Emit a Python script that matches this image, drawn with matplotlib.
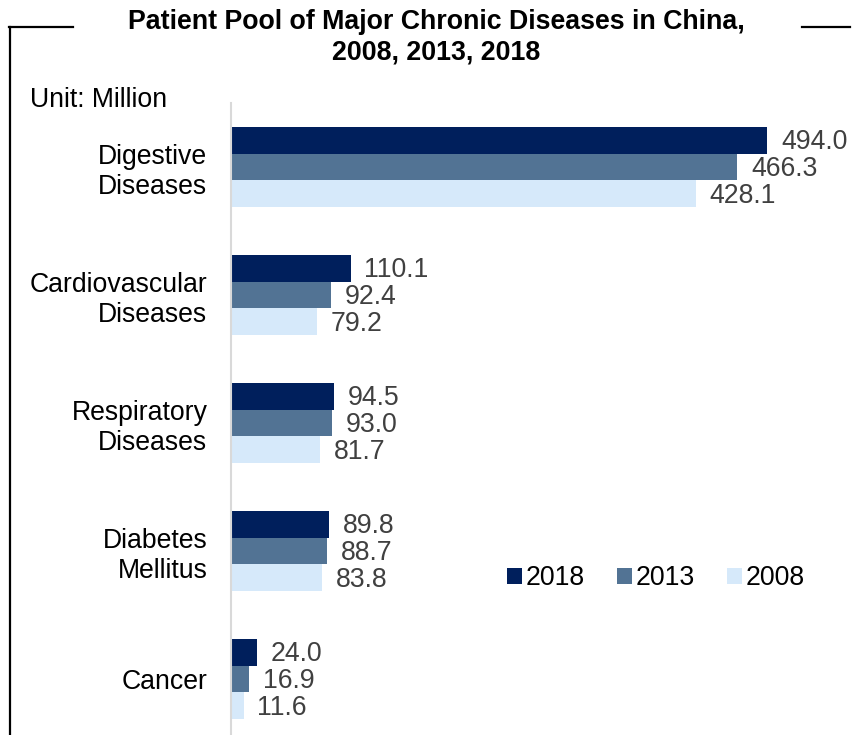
import matplotlib
matplotlib.use("Agg")
import matplotlib.pyplot as plt
from matplotlib.patches import Patch
from matplotlib.lines import Line2D
import numpy as np

plt.rcParams['font.family'] = ['Liberation Sans', 'DejaVu Sans']

categories = ["Digestive\nDiseases", "Cardiovascular\nDiseases", "Respiratory\nDiseases",
              "Diabetes\nMellitus", "Cancer"]
years = ["2018", "2013", "2008"]
values_2018 = [494.0, 110.1, 94.5, 89.8, 24.0]
values_2013 = [466.3, 92.4, 93.0, 88.7, 16.9]
values_2008 = [428.1, 79.2, 81.7, 83.8, 11.6]
series = [values_2018, values_2013, values_2008]
colors = ["#001F5C", "#527394", "#D6E9FA"]

W, H = 856, 735
FS = 19.2
fig = plt.figure(figsize=(W / 100, H / 100), dpi=100)

# plot area in pixel terms
left, right, top, bottom = 231, 850, 103, 743
ax = fig.add_axes([left / W, (H - bottom) / H, (right - left) / W, (bottom - top) / H])

y = np.arange(len(categories))
bh = 0.208
for i, (vals, col, yr) in enumerate(zip(series, colors, years)):
    pos = y + (i - 1) * bh
    ax.barh(pos, vals, height=bh, color=col, label=yr, zorder=2)
    for p, v in zip(pos, vals):
        ax.annotate(f"{v:.1f}", xy=(v, p), xytext=(10, -1.5), textcoords="offset points",
                    ha="left", va="center", fontsize=FS, color="#404040")

ax.set_xlim(0, 570)
ax.set_ylim(len(categories) - 0.5, -0.5)
ax.set_yticks(y)
ax.set_yticklabels(categories, fontsize=FS, color="black", ha="right",
                   multialignment="right", linespacing=1.2)
ax.tick_params(axis="y", length=0, pad=17)
ax.set_xticks([])
for s in ["top", "right", "bottom"]:
    ax.spines[s].set_visible(False)
ax.spines["left"].set_color("#D9D9D9")
ax.spines["left"].set_linewidth(1.5)

handles = [Patch(facecolor=c, edgecolor="none") for c in colors]
fig.legend(handles, years, loc="center", bbox_to_anchor=(656 / W, 1 - 578 / H), ncol=3,
           frameon=False, fontsize=FS, handlelength=0.55, handleheight=0.55,
           handletextpad=0.15, columnspacing=1.2, borderpad=0)

# title and unit note
fig.text(436 / W, 1 - 22 / H, "Patient Pool of Major Chronic Diseases in China,",
         ha="center", va="center", fontsize=19.3, fontweight="bold")
fig.text(436 / W, 1 - 52 / H, "2008, 2013, 2018",
         ha="center", va="center", fontsize=19.3, fontweight="bold")
fig.text(30 / W, 1 - 100 / H, "Unit: Million", ha="left", va="center", fontsize=FS)

# frame around the title
lw = 1.6
fig.add_artist(Line2D([10 / W, 10 / W], [1 - 27 / H, 0], color="black", lw=lw,
                      transform=fig.transFigure))
fig.add_artist(Line2D([9 / W, 73 / W], [1 - 27 / H, 1 - 27 / H], color="black", lw=lw,
                      transform=fig.transFigure))
fig.add_artist(Line2D([802 / W, 850 / W], [1 - 27 / H, 1 - 27 / H], color="black", lw=lw,
                      transform=fig.transFigure))

fig.savefig("out.png", dpi=100)
